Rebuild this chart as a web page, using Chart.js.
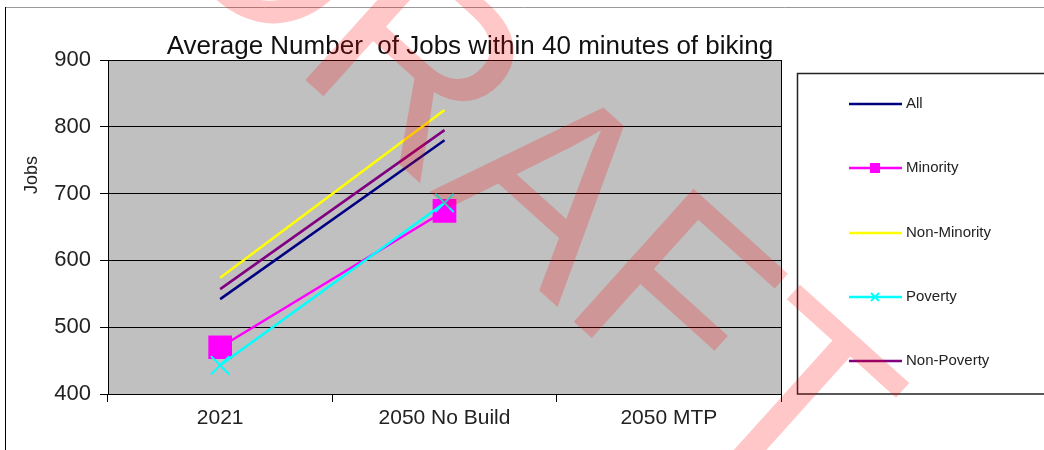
<!DOCTYPE html>
<html>
<head>
<meta charset="utf-8">
<script src="https://cdn.jsdelivr.net/npm/chart.js@4"></script>
<style>
  body { margin: 0; background: #fff; }
  #wrap { width: 1044px; height: 450px; position: relative; }
</style>
</head>
<body>
<div id="wrap"><canvas id="jobsChart" width="1044" height="450"></canvas></div>
<script>
// Data
const categories = ['2021', '2050 No Build', '2050 MTP'];
const allJobs = [542, 780, null];
const minorityJobs = [470, 674, null];
const nonMinorityJobs = [574, 825, null];
const povertyJobs = [443, 686, null];
const nonPovertyJobs = [557, 795, null];
const yTicks = [400, 500, 600, 700, 800, 900];

const FONT = '"Liberation Sans", Arial, sans-serif';

// Title, axis label, legend box, frame and watermark
const decorations = {
    id: 'decorations',
    afterDraw(chart) {
        const ctx = chart.ctx;
        const area = chart.chartArea;
        ctx.save();

        // outer frame
        ctx.strokeStyle = '#999';
        ctx.lineWidth = 1;
        ctx.beginPath();
        ctx.moveTo(5, 7.5); ctx.lineTo(1044, 7.5);
        ctx.stroke();
        ctx.strokeStyle = '#000';
        ctx.beginPath();
        ctx.moveTo(5.5, 7); ctx.lineTo(5.5, 450);
        ctx.stroke();

        // right border of plot
        ctx.strokeStyle = '#000';
        ctx.beginPath();
        ctx.moveTo(Math.round(area.right) + 0.5, area.top);
        ctx.lineTo(Math.round(area.right) + 0.5, area.bottom);
        ctx.stroke();

        // title
        ctx.fillStyle = '#111';
        ctx.font = '26px ' + FONT;
        ctx.textAlign = 'center';
        ctx.textBaseline = 'alphabetic';
        ctx.fillText('Average Number  of Jobs within 40 minutes of biking', 470, 54);

        // y axis title
        ctx.save();
        ctx.translate(37, 175);
        ctx.rotate(-Math.PI / 2);
        ctx.font = '18px ' + FONT;
        ctx.fillStyle = '#222';
        ctx.textAlign = 'center';
        ctx.textBaseline = 'alphabetic';
        ctx.fillText('Jobs', 0, 0);
        ctx.restore();

        // legend box
        ctx.strokeStyle = '#222';
        ctx.lineWidth = 1.5;
        ctx.strokeRect(797.5, 73.5, 300, 320.5);

        const rows = [104, 168, 233, 297, 361];
        chart.data.datasets.forEach((ds, i) => {
            const y = rows[i];
            ctx.strokeStyle = ds.borderColor;
            ctx.lineWidth = 2.5;
            ctx.beginPath();
            ctx.moveTo(849, y); ctx.lineTo(902, y);
            ctx.stroke();
            if (ds.pointStyle === 'rect') {
                ctx.fillStyle = ds.borderColor;
                ctx.fillRect(870, y - 5, 10, 10);
            } else if (ds.pointStyle === 'crossRot') {
                ctx.lineWidth = 2;
                ctx.beginPath();
                ctx.moveTo(871, y - 4); ctx.lineTo(879, y + 4);
                ctx.moveTo(879, y - 4); ctx.lineTo(871, y + 4);
                ctx.stroke();
            }
            ctx.fillStyle = '#222';
            ctx.font = '15px ' + FONT;
            ctx.textAlign = 'left';
            ctx.textBaseline = 'middle';
            ctx.fillText(ds.label, 906, y);
        });

        // DRAFT watermark
        ctx.translate(472, 230);
        ctx.rotate(42 * Math.PI / 180);
        ctx.font = '260px ' + FONT;
        ctx.fillStyle = 'rgba(255, 0, 0, 0.22)';
        ctx.textAlign = 'center';
        ctx.textBaseline = 'alphabetic';
        ctx.fillText('DRAFT', 0, 0);

        ctx.restore();
    }
};

// gray plot background
const plotBackground = {
    id: 'plotBackground',
    beforeDraw(chart) {
        const {ctx, chartArea} = chart;
        ctx.save();
        ctx.fillStyle = '#C0C0C0';
        ctx.fillRect(chartArea.left, chartArea.top, chartArea.right - chartArea.left, chartArea.bottom - chartArea.top);
        ctx.restore();
    }
};

new Chart(document.getElementById('jobsChart'), {
    type: 'line',
    data: {
        labels: categories,
        datasets: [
            { label: 'All', data: allJobs, borderColor: '#000080', borderWidth: 2.5, pointRadius: 0, order: 5 },
            { label: 'Minority', data: minorityJobs, borderColor: '#FF00FF', backgroundColor: '#FF00FF', borderWidth: 2.5,
              pointStyle: 'rect', pointRadius: 15, pointBackgroundColor: '#FF00FF', pointBorderColor: '#FF00FF', order: 4 },
            { label: 'Non-Minority', data: nonMinorityJobs, borderColor: '#FFFF00', borderWidth: 2.5, pointRadius: 0, order: 3 },
            { label: 'Poverty', data: povertyJobs, borderColor: '#00FFFF', borderWidth: 2.5,
              pointStyle: 'crossRot', pointRadius: 13, pointBorderColor: '#00FFFF', pointBorderWidth: 2, order: 2 },
            { label: 'Non-Poverty', data: nonPovertyJobs, borderColor: '#800080', borderWidth: 2.5, pointRadius: 0, order: 1 }
        ]
    },
    options: {
        responsive: false,
        animation: false,
        layout: { padding: { left: 0, top: 60, right: 263, bottom: 0 } },
        plugins: {
            legend: { display: false },
            title: { display: false },
            tooltip: { enabled: false }
        },
        scales: {
            x: {
                offset: true,
                grid: { offset: true, drawOnChartArea: false, drawTicks: true, tickLength: 8, color: '#000' },
                border: { color: '#000', width: 1 },
                ticks: { color: '#222', font: { family: FONT, size: 21 }, padding: 4, maxRotation: 0 },
                afterFit: (scale) => { scale.height = 56; }
            },
            y: {
                min: 400,
                max: 900,
                afterBuildTicks: (scale) => { scale.ticks = yTicks.map(v => ({ value: v })); },
                grid: { color: '#000', tickLength: 8, drawTicks: true },
                border: { color: '#000', width: 1 },
                ticks: { color: '#222', font: { family: FONT, size: 22 }, padding: 9 },
                afterFit: (scale) => { scale.width = 108; }
            }
        }
    },
    plugins: [plotBackground, decorations]
});
</script>
</body>
</html>
